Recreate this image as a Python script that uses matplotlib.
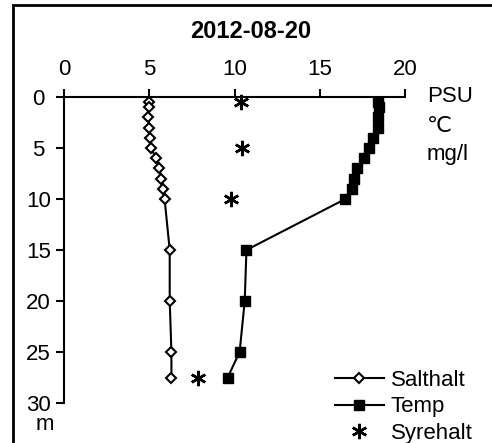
import matplotlib
matplotlib.use('Agg')
import matplotlib.pyplot as plt
from matplotlib.patches import Rectangle

plt.rcParams['font.family'] = ['Liberation Sans', 'DejaVu Sans']

# depth profile 2012-08-20
depth = [0.5, 1, 2, 3, 4, 5, 6, 7, 8, 9, 10, 15, 20, 25, 27.5]
salt = [5.0, 5.0, 4.95, 5.0, 5.05, 5.1, 5.4, 5.6, 5.7, 5.8, 5.9, 6.2, 6.2, 6.3, 6.3]
temp = [18.4, 18.5, 18.4, 18.4, 18.1, 17.9, 17.6, 17.2, 17.0, 16.9, 16.5,
        10.7, 10.6, 10.3, 9.6]
oxy_depth = [0.5, 5, 10, 27.5]
oxy = [10.4, 10.45, 9.8, 7.85]

W, H = 492, 443
FS = 16

fig = plt.figure(figsize=(W / 100, H / 100), dpi=100)
ax = fig.add_axes([64 / W, 1 - 403 / H, (405 - 64) / W, (403 - 97) / H])

ax.plot(salt, depth, color='black', lw=1.5, marker='D', ms=5,
        mfc='white', mec='black', mew=1.5, label='Salthalt', clip_on=False)
ax.plot(temp, depth, color='black', lw=1.5, marker='s', ms=7,
        mfc='black', mec='black', label='Temp', clip_on=False)
ax.plot(oxy, oxy_depth, ls='none', marker=(6, 2, 0), ms=11, mew=1.8,
        color='black', label='Syrehalt', clip_on=False)

ax.set_xlim(0, 20)
ax.set_ylim(30, 0)
ax.set_xticks([0, 5, 10, 15, 20])
ax.set_yticks([0, 5, 10, 15, 20, 25, 30])
ax.xaxis.tick_top()
ax.tick_params(axis='both', labelsize=FS, length=6, width=1.5, direction='out')
ax.tick_params(axis='x', pad=6)
ax.tick_params(axis='y', pad=12.5)
for lbl in ax.get_yticklabels():
    lbl.set_ha('center')
for s in ['right', 'bottom']:
    ax.spines[s].set_visible(False)
for s in ['left', 'top']:
    ax.spines[s].set_linewidth(1.5)

fig.text(251 / W, 1 - 32 / H, '2012-08-20', ha='center', va='center',
         fontsize=17, fontweight='bold')
for txt, yb in [('PSU', 102), ('℃', 132), ('mg/l', 160)]:
    fig.text(427 / W, 1 - yb / H, txt, ha='left', va='baseline', fontsize=FS)
fig.text(45 / W, 1 - 430 / H, 'm', ha='center', va='baseline', fontsize=FS)

ax.legend(loc='lower left', bbox_to_anchor=(335 / W, -1 / H),
          bbox_transform=fig.transFigure, frameon=False, fontsize=FS,
          handlelength=2.2, handletextpad=0.3, labelspacing=0.25,
          borderpad=0, borderaxespad=0)

fig.patches.append(Rectangle((13 / W, -0.1), 1.0, 0.1 + 1 - 5 / H,
                             transform=fig.transFigure, fill=False,
                             edgecolor='black', lw=2))

fig.savefig('out.png', dpi=100)
